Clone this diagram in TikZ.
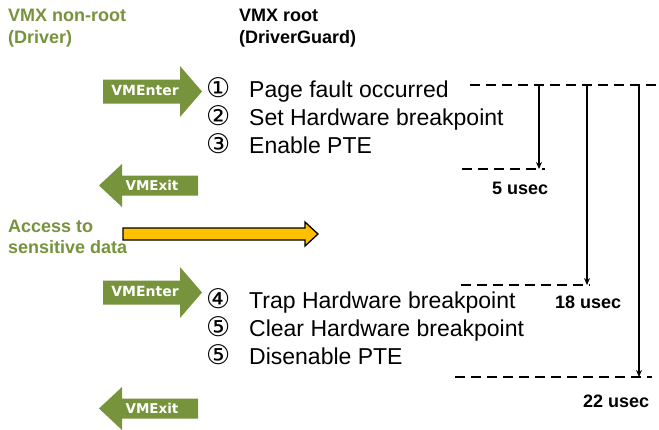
\documentclass[tikz,border=0pt]{standalone}
\usepackage{fontspec}
\setmainfont{Liberation Sans}
\newfontfamily\symfont{DejaVu Sans}
\newfontfamily\tagfont{DejaVu Sans}
\usetikzlibrary{arrows.meta}
\definecolor{olive}{HTML}{77933C}
\definecolor{amber}{HTML}{FFC000}

\tikzset{
  hdr/.style={font=\fontsize{18}{22}\selectfont\bfseries, inner sep=0pt, anchor=base west},
  steptext/.style={font=\fontsize{23}{28}\selectfont, inner sep=0pt, anchor=base west},
  tag/.style={font=\tagfont\fontsize{14}{14}\selectfont\bfseries, text=white, inner sep=0pt},
  timing/.style={font=\fontsize{18}{18}\selectfont\bfseries, inner sep=0pt, anchor=base west},
  mark line/.style={line width=2pt, dash pattern=on 10pt off 6pt},
  span/.style={line width=1.5pt, -{Stealth[length=7pt,width=6pt]}},
}

% circled step number followed by its text
\newcommand{\stepline}[2]{\makebox[43pt][l]{\symfont\fontsize{27}{28}\selectfont #1}#2}

% block arrow pointing right
\newcommand{\enterblock}[2]{%
  \fill[olive] (103,#1-12) -- (180,#1-12) -- (180,#1-25.5) -- (202,#1) --
    (180,#1+25.5) -- (180,#1+12) -- (103,#1+12) -- cycle;
  \node[tag] (#2) at (145,#1-1) {VMEnter};}
% block arrow pointing left
\newcommand{\exitblock}[2]{%
  \fill[olive] (198,#1-10) -- (122,#1-10) -- (122,#1-21.5) -- (99,#1) --
    (122,#1+21.5) -- (122,#1+10) -- (198,#1+10) -- cycle;
  \node[tag, font=\tagfont\fontsize{13.5}{14}\selectfont\bfseries] (#2) at (152,#1) {VMExit};}

\begin{document}
\begin{tikzpicture}[x=1pt,y=-1pt]
\useasboundingbox[fill=white] (0,0) rectangle (659,429);

% column headers
\node[hdr, text=olive] (nonroot) at (8,21) {VMX non-root};
\node[hdr, text=olive] (nonrootsub) at (8,43) {(Driver)};
\node[hdr] (root) at (239,21) {VMX root};
\node[hdr] (rootsub) at (239,43) {(DriverGuard)};

% world switches
\enterblock{91.5}{enterA}
\exitblock{185.5}{exitA}
\enterblock{292.5}{enterB}
\exitblock{408.5}{exitB}

% access to sensitive data
\node[hdr, text=olive] (access) at (8,232) {Access to};
\node[hdr, text=olive] (accesssub) at (8,253) {sensitive data};
\draw[line width=1.3pt, fill=amber, line join=miter]
  (123,228) -- (305,228) -- (305,222) -- (318,234) -- (305,246) -- (305,240) -- (123,240) -- cycle;

% handler steps
\node[steptext] (s1) at (206,97)  {\stepline{①}{Page fault occurred}};
\node[steptext] (s2) at (206,125) {\stepline{②}{Set Hardware breakpoint}};
\node[steptext] (s3) at (206,153) {\stepline{③}{Enable PTE}};
\node[steptext] (s4) at (206,308) {\stepline{④}{Trap Hardware breakpoint}};
\node[steptext] (s5) at (206,336) {\stepline{⑤}{Clear Hardware breakpoint}};
\node[steptext] (s6) at (206,364) {\stepline{⑤}{Disenable PTE}};

% time marks
\coordinate (t0a) at (470,85);  \coordinate (t0b) at (659,85);
\coordinate (t1a) at (462,169); \coordinate (t1b) at (545,169);
\coordinate (t2a) at (461,285); \coordinate (t2b) at (590,285);
\coordinate (t3a) at (455,377); \coordinate (t3b) at (652,377);
\draw[mark line] (t0a) -- (t0b);
\draw[mark line] (t1a) -- (t1b);
\draw[mark line] (t2a) -- (t2b);
\draw[mark line] (t3a) -- (t3b);

% elapsed times
\coordinate (v1a) at (539,85);  \coordinate (v1b) at (539,169);
\coordinate (v2a) at (587,85);  \coordinate (v2b) at (587,285);
\coordinate (v3a) at (639,85);  \coordinate (v3b) at (639,377);
\draw[span] (v1a) -- (v1b);
\draw[span] (v2a) -- (v2b);
\draw[span] (v3a) -- (v3b);

\node[timing] (d1) at (492,194) {5 usec};
\node[timing] (d2) at (555,308) {18 usec};
\node[timing] (d3) at (583,407) {22 usec};
\end{tikzpicture}
\end{document}
